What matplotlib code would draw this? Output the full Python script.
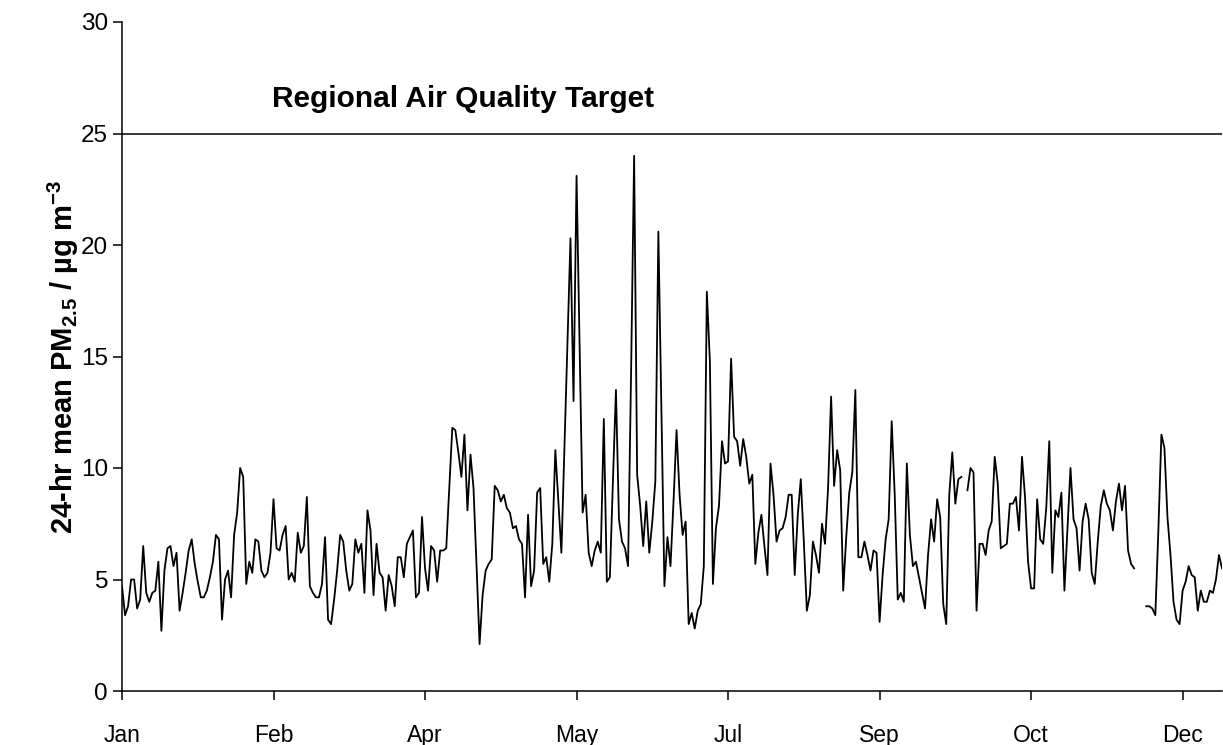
import numpy as np
import matplotlib
matplotlib.use("Agg")
import matplotlib.pyplot as plt

plt.rcParams['font.family'] = ['Liberation Sans', 'DejaVu Sans']
plt.rcParams['mathtext.fontset'] = 'custom'
plt.rcParams['mathtext.rm'] = 'Liberation Sans:bold'
plt.rcParams['mathtext.default'] = 'rm'

nan = np.nan

# daily 24-hr mean PM2.5, day 0 = 1 Jan (nan = missing day)
pm25 = [
    4.7, 3.4, 3.8, 5.0, 5.0, 3.7, 4.1, 6.5, 4.4, 4.0,
    4.4, 4.5, 5.8, 2.7, 5.4, 6.4, 6.5, 5.6, 6.2, 3.6,
    4.4, 5.3, 6.3, 6.8, 5.7, 4.9, 4.2, 4.2, 4.5, 5.1,
    5.8, 7.0, 6.8, 3.2, 5.0, 5.4, 4.2, 7.0, 8.0, 10.0,
    9.6, 4.8, 5.8, 5.3, 6.8, 6.7, 5.4, 5.1, 5.3, 6.2,
    8.6, 6.4, 6.3, 7.0, 7.4, 5.0, 5.3, 4.9, 7.1, 6.2,
    6.5, 8.7, 4.7, 4.4, 4.2, 4.2, 4.8, 6.9, 3.2, 3.0,
    4.1, 5.4, 7.0, 6.7, 5.4, 4.5, 4.8, 6.8, 6.2, 6.6,
    4.4, 8.1, 7.2, 4.3, 6.6, 5.3, 5.1, 3.6, 5.2, 4.7,
    3.8, 6.0, 6.0, 5.1, 6.6, 6.9, 7.2, 4.2, 4.4, 7.8,
    5.5, 4.5, 6.5, 6.3, 4.9, 6.3, 6.3, 6.4, 9.1, 11.8,
    11.7, 10.7, 9.6, 11.5, 8.1, 10.6, 9.1, 5.6, 2.1, 4.3,
    5.4, 5.7, 5.9, 9.2, 9.0, 8.5, 8.8, 8.2, 8.0, 7.3,
    7.4, 6.8, 6.6, 4.2, 7.9, 4.7, 5.4, 8.9, 9.1, 5.7,
    6.0, 4.9, 6.6, 10.8, 8.5, 6.2, 10.9, 15.6, 20.3, 13.0,
    23.1, 15.5, 8.0, 8.8, 6.2, 5.6, 6.3, 6.7, 6.2, 12.2,
    4.9, 5.1, 9.4, 13.5, 7.7, 6.7, 6.4, 5.6, 14.3, 24.0,
    9.7, 8.3, 6.5, 8.5, 6.2, 7.6, 9.4, 20.6, 12.6, 4.7,
    6.9, 5.6, 8.5, 11.7, 8.8, 7.0, 7.6, 3.0, 3.5, 2.8,
    3.6, 3.9, 5.6, 17.9, 14.8, 4.8, 7.3, 8.3, 11.2, 10.2,
    10.3, 14.9, 11.4, 11.2, 10.1, 11.3, 10.5, 9.3, 9.7, 5.7,
    7.1, 7.9, 6.5, 5.2, 10.2, 8.8, 6.7, 7.2, 7.3, 7.8,
    8.8, 8.8, 5.2, 7.9, 9.5, 6.7, 3.6, 4.3, 6.7, 6.1,
    5.3, 7.5, 6.6, 9.1, 13.2, 9.2, 10.8, 9.9, 4.5, 6.9,
    8.9, 9.8, 13.5, 6.0, 6.0, 6.7, 6.1, 5.4, 6.3, 6.2,
    3.1, 5.2, 6.8, 7.7, 12.1, 8.8, 4.1, 4.4, 4.0, 10.2,
    7.0, 5.6, 5.8, 5.1, 4.4, 3.7, 6.1, 7.7, 6.7, 8.6,
    7.8, 3.9, 3.0, 8.8, 10.7, 8.4, 9.5, 9.6, nan, 9.0,
    10.0, 9.8, 3.6, 6.6, 6.6, 6.1, 7.2, 7.6, 10.5, 9.3,
    6.4, 6.5, 6.6, 8.4, 8.4, 8.7, 7.2, 10.5, 8.7, 5.8,
    4.6, 4.6, 8.6, 6.8, 6.6, 8.2, 11.2, 5.3, 8.1, 7.8,
    8.9, 4.5, 7.3, 10.0, 7.7, 7.3, 5.4, 7.6, 8.4, 7.7,
    5.3, 4.8, 6.7, 8.3, 9.0, 8.4, 8.1, 7.2, 8.5, 9.3,
    8.1, 9.2, 6.3, 5.7, 5.5, nan, nan, nan, 3.8, 3.8,
    3.7, 3.4, 7.2, 11.5, 10.9, 7.8, 6.1, 4.0, 3.2, 3.0,
    4.5, 4.9, 5.6, 5.2, 5.1, 3.6, 4.5, 4.0, 4.0, 4.5,
    4.4, 5.0, 6.1, 5.5,
]

tick_days = [0, 50, 100, 150, 200, 250, 300, 350]
tick_labels = ['Jan', 'Feb', 'Apr', 'May', 'Jul', 'Sep', 'Oct', 'Dec']
y_ticks = [0, 5, 10, 15, 20, 25, 30]
target = 25
target_label = 'Regional Air Quality Target'

days = np.arange(len(pm25))

fig = plt.figure(figsize=(12.23, 7.45), dpi=100)
ax = fig.add_axes([122 / 1223, 54 / 745, 1100 / 1223, 669 / 745])

ax.plot(days, pm25, color='black', lw=1.3)
ax.axhline(target, color='black', lw=1.1)
ax.text(49.5, 26.55, target_label, fontsize=21.5, fontweight='bold', va='center', ha='left')

ax.set_xlim(0, len(pm25) - 1)
ax.set_ylim(0, 30)
ax.set_xticks(tick_days)
ax.set_xticklabels(tick_labels)
ax.set_yticks(y_ticks)

for s in ['top', 'right']:
    ax.spines[s].set_visible(False)
for s in ['left', 'bottom']:
    ax.spines[s].set_linewidth(1.1)

ax.tick_params(direction='out', length=6.5, width=1.1, labelsize=17.5)
ax.tick_params(axis='x', labelsize=16.5, pad=17)
ax.set_ylabel('24-hr mean PM$_{2.5}$ / µg m$^{-3}$', fontsize=21, fontweight='bold', labelpad=0)

fig.savefig('out.png', dpi=100)
